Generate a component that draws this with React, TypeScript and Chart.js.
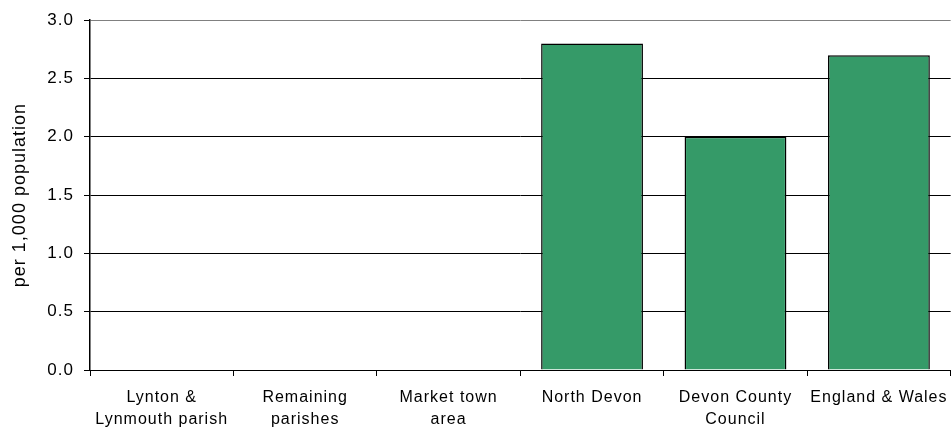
import React, { useEffect, useRef } from "react";
import { Chart, registerables } from "chart.js";

Chart.register(...registerables);

const categories: (string | string[])[] = [
  ["Lynton &", "Lynmouth parish"],
  ["Remaining", "parishes"],
  ["Market town", "area"],
  "North Devon",
  ["Devon County", "Council"],
  "England & Wales",
];
const values: (number | null)[] = [null, null, null, 2.8, 2.0, 2.7];
const yTitle = "per 1,000 population";

const spacing = {
  id: "spacing",
  beforeDraw: (chart: any) => {
    try {
      chart.ctx.letterSpacing = "1px";
    } catch (e) {}
  },
};

export default function App() {
  const ref = useRef<HTMLCanvasElement | null>(null);
  useEffect(() => {
    document.body.style.margin = "0";
    const chart = new Chart(ref.current!, {
      type: "bar",
      data: {
        labels: categories,
        datasets: [
          {
            data: values,
            backgroundColor: "#359a68",
            borderColor: "#000000",
            borderWidth: 1.5,
            barPercentage: 0.71,
            categoryPercentage: 1,
          },
        ],
      },
      plugins: [spacing],
      options: {
        responsive: false,
        animation: false,
        layout: { padding: { top: 14, right: 0, left: 0, bottom: 0 } },
        plugins: { legend: { display: false }, tooltip: { enabled: false } },
        scales: {
          x: {
            grid: {
              drawOnChartArea: false,
              drawTicks: true,
              tickLength: 6,
              offset: true,
              color: "#000",
            },
            border: { color: "#000", width: 1 },
            ticks: {
              color: "#000",
              font: { family: "Liberation Sans, Arial", size: 16, lineHeight: 1.35 },
              maxRotation: 0,
              autoSkip: false,
              padding: 11,
            },
            afterFit: (s: any) => {
              s.height = 58;
            },
          },
          y: {
            min: 0,
            max: 3,
            ticks: {
              stepSize: 0.5,
              color: "#000",
              font: { family: "Liberation Sans, Arial", size: 17 },
              padding: 10,
              callback: (v: any) => Number(v).toFixed(1),
            },
            grid: {
              color: (ctx: any) => (ctx.tick && ctx.tick.value === 3 ? "#808080" : "#000"),
              lineWidth: 1,
              tickLength: 6,
              tickColor: "#000",
            },
            border: { color: "#000", width: 1.5 },
            title: {
              display: true,
              text: yTitle,
              color: "#000",
              font: { family: "Liberation Sans, Arial", size: 18 },
              padding: 9,
            },
            afterFit: (s: any) => {
              s.width = 90;
            },
          },
        },
      },
    });
    return () => chart.destroy();
  }, []);
  return (
    <div style={{ position: "absolute", left: 0, top: 0 }}>
      <canvas ref={ref} width={951} height={428} style={{ display: "block" }} />
    </div>
  );
}
